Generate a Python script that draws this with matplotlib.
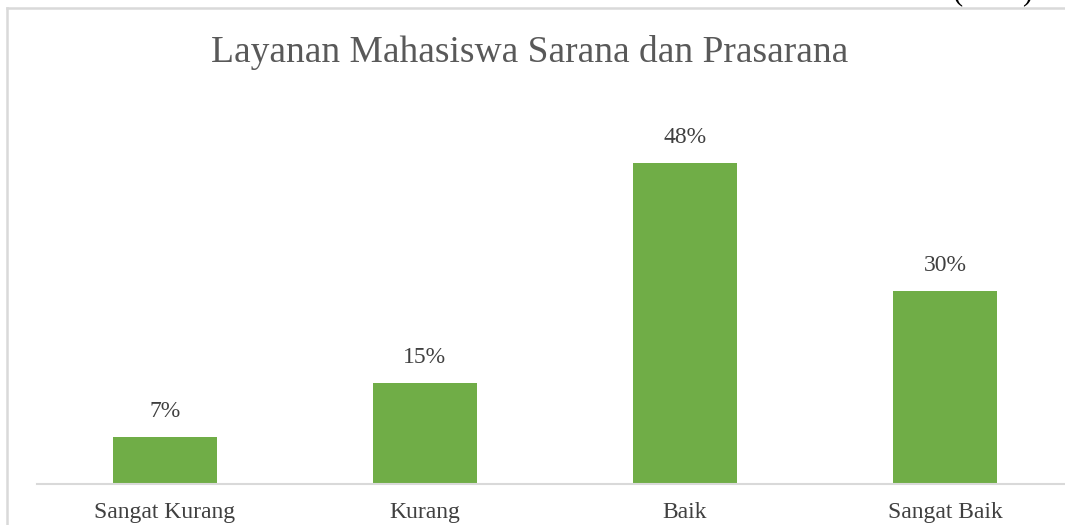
import matplotlib.pyplot as plt
from matplotlib.lines import Line2D

categories = ['Sangat Kurang', 'Kurang', 'Baik', 'Sangat Baik']
values = [7.0, 15.1, 48.0, 28.8]
value_labels = ['7%', '15%', '48%', '30%']

plt.rcParams['font.family'] = ['Liberation Serif', 'DejaVu Serif']

fig = plt.figure(figsize=(10.65, 5.25), dpi=100)
ax = fig.add_axes([37/1065, 1 - 484/525, (1075 - 37)/1065, 384/525])

x = range(len(categories))
bars = ax.bar(x, values, width=0.4, color='#70AD47', zorder=2)

for b, lab in zip(bars, value_labels):
    ax.annotate(lab, (b.get_x() + b.get_width()/2, b.get_height()),
                xytext=(0, 11), textcoords='offset points',
                ha='center', va='bottom', fontsize=17, color='#404040')

ax.set_xlim(-0.492, 3.5)
ax.set_ylim(0, 57.4)
ax.set_xticks(list(x))
ax.set_xticklabels(categories, fontsize=17, color='#404040')
ax.tick_params(axis='x', length=0, pad=13)
ax.set_yticks([])
for s in ['top', 'right', 'left']:
    ax.spines[s].set_visible(False)
ax.spines['bottom'].set_color('#d9d9d9')
ax.spines['bottom'].set_linewidth(1.5)

fig.text(530/1065, 1 - 52/525, 'Layanan Mahasiswa Sarana dan Prasarana',
         ha='center', va='center', fontsize=27, color='#595959')

# partial caption cut off at top edge
fig.text(993/1065, 1 + 1/525, '(2021)', ha='center', va='baseline',
         fontsize=22, color='black')

# frame of the chart area (cropped)
fig.add_artist(Line2D([7/1065, 7/1065], [0, 1 - 8/525], transform=fig.transFigure,
                      color='#d9d9d9', lw=1.8))
fig.add_artist(Line2D([7/1065, 1], [1 - 8/525, 1 - 8/525], transform=fig.transFigure,
                      color='#d9d9d9', lw=1.8))

fig.savefig('out.png', dpi=100)
